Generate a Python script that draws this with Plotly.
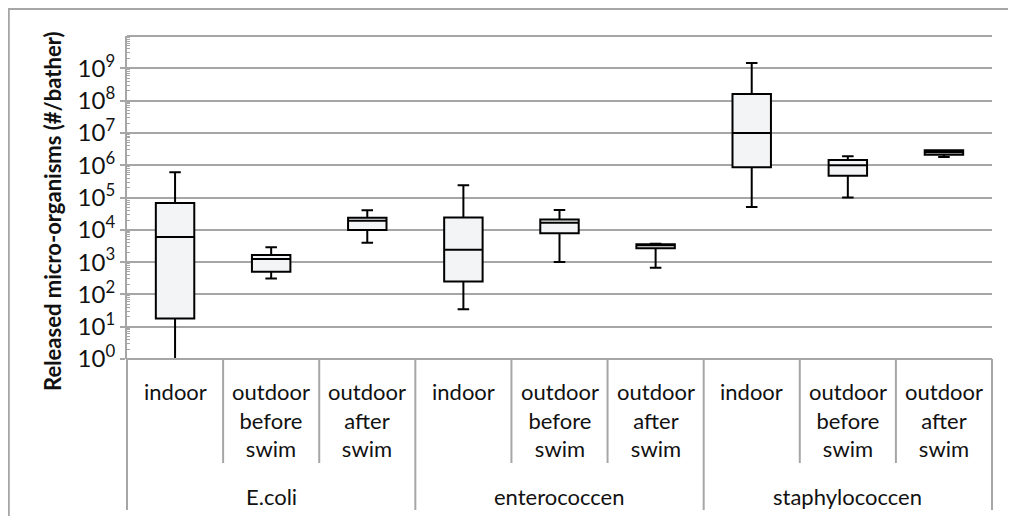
import plotly.graph_objects as go

# ---- data ----
groups = ["E.coli", "enterococcen", "staphylococcen"]
subgroups = ["indoor", "outdoor<br>before<br>swim", "outdoor<br>after<br>swim"]
lower_fence = [1, 313, 4.0e3, 35, 1.0e3, 670, 5.1e4, 1.0e5, 1.8e6]
q1 = [18, 505, 9.8e3, 250, 7.8e3, 2.7e3, 8.7e5, 4.7e5, 2.1e6]
median = [6.0e3, 1.25e3, 1.9e4, 2.4e3, 1.65e4, 3.5e3, 1.0e7, 1.0e6, 2.5e6]
q3 = [6.7e4, 1.66e3, 2.35e4, 2.4e4, 2.1e4, 3.6e3, 1.6e8, 1.45e6, 2.9e6]
upper_fence = [6.0e5, 2.87e3, 4.0e4, 2.4e5, 4.1e4, 3.7e3, 1.45e9, 1.9e6, 2.9e6]
y_exponents = list(range(10))
y_title = "Released micro-organisms (#/bather)"

# ---- layout geometry (page pixels; page body has an 8px margin) ----
OFF = 8
W, H = 1016 - OFF, 516 - OFF     # figure size so the page does not overflow
L, R, T, B = 127, 992, 36, 359   # plot area in page pixels
FONT = "Lato"
GRID = "#a6a6a6"


def xp(px):
    return (px - L) / (R - L)


def yp(py):
    return (B - py) / (B - T)


labels = [s for g in groups for s in subgroups]
n = len(labels)
xs = list(range(n))

fig = go.Figure()
fig.add_trace(go.Box(
    x=xs, q1=q1, median=median, q3=q3,
    lowerfence=lower_fence, upperfence=upper_fence,
    width=0.4, whiskerwidth=0.3,
    fillcolor="#f3f4f6",
    line=dict(color="black", width=2),
    boxpoints=False, showlegend=False, hoverinfo="y",
))

shapes = []
shapes.append(dict(type="line", xref="paper", yref="paper", x0=0, x1=1, y0=1, y1=1,
                   line=dict(color=GRID, width=2)))
shapes.append(dict(type="line", xref="paper", yref="paper", x0=0, x1=1, y0=0, y1=0,
                   line=dict(color=GRID, width=2)))
for i in range(n + 1):
    xb = i / n
    bottom = 510 if i % len(subgroups) == 0 else 463
    shapes.append(dict(type="line", xref="paper", yref="paper", x0=xb, x1=xb,
                       y0=0, y1=yp(bottom), line=dict(color=GRID, width=2)))
# outer chart border (left + top visible)
shapes.append(dict(type="line", xref="paper", yref="paper", x0=xp(OFF + 0.8), x1=xp(OFF + 0.8),
                   y0=yp(9), y1=yp(540), line=dict(color=GRID, width=2)))
shapes.append(dict(type="line", xref="paper", yref="paper", x0=xp(OFF), x1=xp(1040),
                   y0=yp(9), y1=yp(9), line=dict(color=GRID, width=2)))

annotations = []
for i, lab in enumerate(labels):
    annotations.append(dict(x=i, y=yp(376), xref="x", yref="paper", text=lab,
                            showarrow=False, yanchor="top", xanchor="center",
                            font=dict(family=FONT, size=22, color="#111")))
k = len(subgroups)
for gi, g in enumerate(groups):
    annotations.append(dict(x=gi * k + (k - 1) / 2, y=yp(496), xref="x", yref="paper",
                            text=g, showarrow=False, yanchor="middle",
                            font=dict(family=FONT, size=22, color="#111")))
annotations.append(dict(x=xp(52), y=yp(212), xref="paper", yref="paper", text="<b>" + y_title + "</b>",
                        textangle=-90, showarrow=False, xanchor="center", yanchor="middle",
                        font=dict(family=FONT, size=22, color="#111")))

minor_vals = [m * 10 ** e for e in y_exponents for m in range(2, 10)]

fig.update_layout(
    width=W, height=H,
    margin=dict(l=L - OFF, r=W - (R - OFF), t=T - OFF, b=H - (B - OFF)),
    paper_bgcolor="white", plot_bgcolor="white",
    shapes=shapes, annotations=annotations,
    xaxis=dict(range=[-0.5, n - 0.5], showticklabels=False, showgrid=False,
               zeroline=False, ticks=""),
    yaxis=dict(type="log", range=[0, 10],
               tickmode="array",
               tickvals=[10 ** e for e in y_exponents],
               ticktext=["10<sup>%d</sup>" % e for e in y_exponents],
               showgrid=True, gridcolor=GRID, gridwidth=2,
               showline=True, linecolor=GRID, linewidth=2,
               ticks="outside", ticklen=5, tickcolor=GRID, tickwidth=2,
               minor=dict(tickmode="array", tickvals=minor_vals, ticks="inside",
                          ticklen=3, tickcolor=GRID, tickwidth=1, showgrid=False),
               tickfont=dict(family=FONT, size=24, color="#111"),
               zeroline=False),
)

fig.write_html("out.html")
